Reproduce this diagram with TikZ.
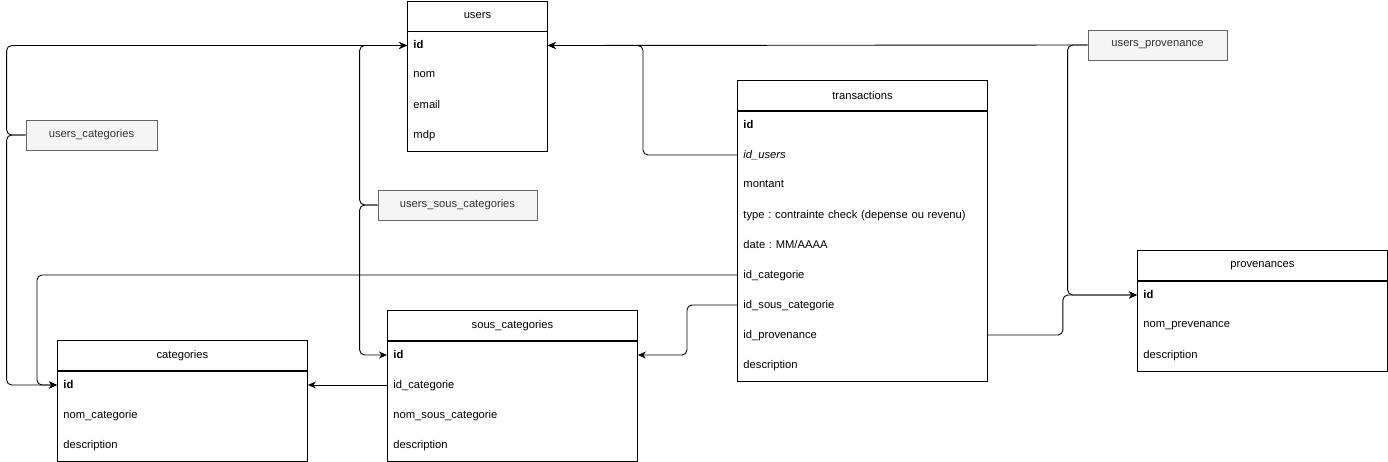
\documentclass[tikz,border=0pt]{standalone}
\usepackage{fontspec}
\setmainfont{Liberation Sans}
\usetikzlibrary{arrows.meta}
\frenchspacing

\begin{document}
\begin{tikzpicture}[x=1pt, y=-1pt, >={Stealth[length=8pt,width=7pt]}, font=\fontsize{11.2}{13.5}\selectfont, line width=0.9pt]
  \definecolor{labelfill}{HTML}{F5F5F5}
  \definecolor{labeldraw}{HTML}{666666}
  \definecolor{labeltext}{HTML}{333333}
  \tikzset{
    tablehead/.style={draw, anchor=north west, minimum width=#1, minimum height=30, inner sep=0pt},
    tablebody/.style={draw, anchor=north west, minimum width=#1, inner sep=0pt},
    row/.style={anchor=west, text width=#1-12, inner xsep=6pt, inner ysep=0pt, minimum height=30, text depth=1.5pt, align=left},
    linklabel/.style={draw=labeldraw, fill=labelfill, text=labeltext, minimum height=30, line width=0.7pt},
    link/.style={->, rounded corners=5pt}
  }
  \useasboundingbox (0,0) rectangle (1388,461);

  % users
  \node[tablehead=140] (users) at (407,0.5) {users};
  \node[tablebody=140, minimum height=120] at (users.south west) {};
  \foreach \k/\t [count=\i] in {id/\textbf{id}, nom/nom, email/email, mdp/mdp}
    \node[row=140] (users-\k) at (407,{15.5+30*\i}) {\t};

  % transactions
  \node[tablehead=250] (tr) at (737,80) {transactions};
  \node[tablebody=250, minimum height=270] at (tr.south west) {};
  \foreach \k/\t [count=\i] in {id/\textbf{id}, idusers/\textit{id\_users}, montant/montant,
      type/{\mbox{type : contrainte check (depense ou revenu)}}, date/{date : MM/AAAA},
      idcat/id\_categorie, idsc/id\_sous\_categorie, idprov/id\_provenance, desc/description}
    \node[row=250] (tr-\k) at (737,{95+30*\i}) {\t};

  % provenances
  \node[tablehead=250] (prov) at (1137,250) {provenances};
  \node[tablebody=250, minimum height=90] at (prov.south west) {};
  \foreach \k/\t [count=\i] in {id/\textbf{id}, nom/nom\_prevenance, desc/description}
    \node[row=250] (prov-\k) at (1137,{265+30*\i}) {\t};

  % sous_categories
  \node[tablehead=250] (sc) at (387,310) {sous\_categories};
  \node[tablebody=250, minimum height=120] at (sc.south west) {};
  \foreach \k/\t [count=\i] in {id/\textbf{id}, idcat/id\_categorie, nom/nom\_sous\_categorie, desc/description}
    \node[row=250] (sc-\k) at (387,{325+30*\i}) {\t};

  % categories
  \node[tablehead=250] (cat) at (57,340) {categories};
  \node[tablebody=250, minimum height=90] at (cat.south west) {};
  \foreach \k/\t [count=\i] in {id/\textbf{id}, nom/nom\_categorie, desc/description}
    \node[row=250] (cat-\k) at (57,{355+30*\i}) {\t};

  % link tables
  \node[linklabel, minimum width=131] (ucat) at (91.5,135) {users\_categories};
  \node[linklabel, minimum width=159] (usc) at (457.5,205) {users\_sous\_categories};
  \node[linklabel, minimum width=139] (uprov) at (1157.5,45) {users\_provenance};

  \draw[link] (ucat.west) -- ++(-19,0) |- (users-id.west);
  \draw[link] (ucat.west) -- ++(-19,0) |- (cat-id.west);
  \draw[link] (usc.west) -- ++(-18,0) |- (users-id.west);
  \draw[link] (usc.west) -- ++(-18,0) |- (sc-id.west);
  \draw[link] (uprov.west) -- (users-id.east);
  \draw[link] (uprov.west) -- ++(-20,0) |- (prov-id.west);

  % foreign keys
  \draw[link] (tr-idusers.west) -- ++(-94,0) |- (users-id.east);
  \draw[link] (tr-idcat.west) -| ([xshift=-20pt]cat-id.west) -- (cat-id.west);
  \draw[link] (tr-idsc.west) -- ++(-50,0) |- (sc-id.east);
  \draw[link] (tr-idprov.east) -- ++(75,0) |- (prov-id.west);
  \draw[link] (sc-idcat.west) -- (cat-id.east);
\end{tikzpicture}
\end{document}
